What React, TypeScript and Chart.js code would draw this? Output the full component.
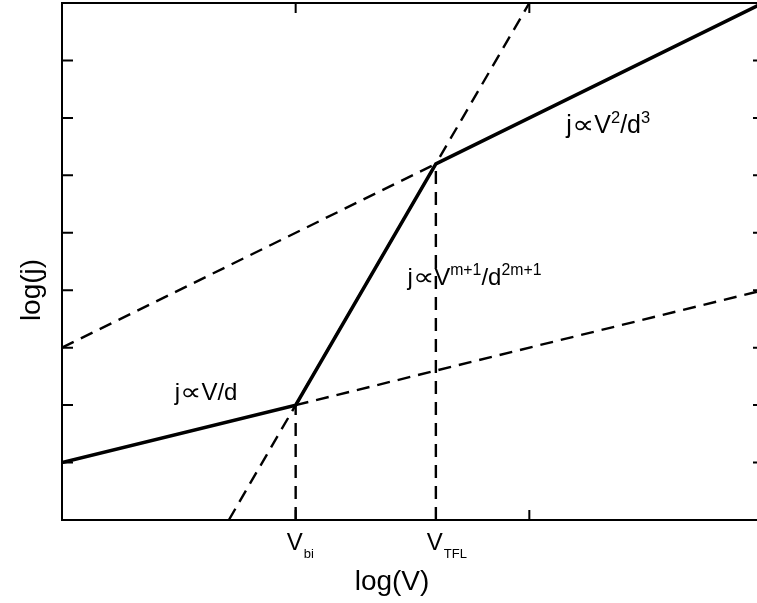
import { useEffect, useRef } from "react";
import { Chart, registerables } from "chart.js";

Chart.register(...registerables);

// log(V) / log(j) scale limits (arbitrary log units)
const xRange = [0, 3];
const yRange = [0, 9];

// Tick positions on the frame
const xTicks = [1, 2];
const yTicks = [1, 2, 3, 4, 5, 6, 7, 8];

// Characteristic voltages (log units)
const logVbi = 1;
const logVtfl = 1.6;

// Measured J-V curve: ohmic -> trap-filling -> Child's law
const curveX = [0, logVbi, logVtfl, 3];
const curveY = [1, 2, 6.2, 9];

// Extrapolated regimes (dashed)
const ohmicExtX = [logVbi, 3];
const ohmicExtY = [2, 4];
const childExtX = [0, logVtfl];
const childExtY = [3, 6.2];
const trapExtX = [0.714, 2];
const trapExtY = [0, 9];

// Vertical guides down to the voltage axis
const vbiGuideX = [logVbi, logVbi];
const vbiGuideY = [0, 2];
const vtflGuideX = [logVtfl, logVtfl];
const vtflGuideY = [0, 6.2];

const FONT = '"Liberation Sans", Arial, sans-serif';

type Part = { t: string; sup?: boolean; sub?: boolean; sym?: boolean };

const regimeLabels: { x: number; y: number; size: number; parts: Part[] }[] = [
  { x: 0.483, y: 2.09, size: 24, parts: [{ t: "j" }, { t: "\u221D", sym: true }, { t: "V/d" }] },
  {
    x: 1.479,
    y: 4.09,
    size: 24,
    parts: [
      { t: "j" },
      { t: "\u221D", sym: true },
      { t: "V" },
      { t: "m+1", sup: true },
      { t: "/d" },
      { t: "2m+1", sup: true },
    ],
  },
  {
    x: 2.158,
    y: 6.73,
    size: 25,
    parts: [
      { t: "j" },
      { t: "\u221D", sym: true },
      { t: "V" },
      { t: "2", sup: true },
      { t: "/d" },
      { t: "3", sup: true },
    ],
  },
];

const voltageLabels: { x: number; main: string; sub: string }[] = [
  { x: logVbi, main: "V", sub: "bi" },
  { x: logVtfl, main: "V", sub: "TFL" },
];

const pts = (xs: number[], ys: number[]) => xs.map((x, i) => ({ x, y: ys[i] }));

function drawRich(ctx: CanvasRenderingContext2D, x: number, y: number, parts: Part[], size: number) {
  let cx = x;
  for (const p of parts) {
    let s = size;
    let dy = 0;
    if (p.sup) {
      s = size * 0.66;
      dy = -size * 0.4;
    } else if (p.sub) {
      s = size * 0.55;
      dy = size * 0.35;
    }
    ctx.font = `${s}px ${FONT}`;
    if (p.sym) {
      // widened proportionality sign
      const stretch = 1.25;
      const w = ctx.measureText(p.t).width;
      ctx.save();
      ctx.translate(cx, y + dy);
      ctx.scale(stretch, 1);
      ctx.fillText(p.t, 0, 0);
      ctx.restore();
      cx += w * stretch;
    } else {
      ctx.fillText(p.t, cx, y + dy);
      cx += ctx.measureText(p.t).width;
    }
  }
}

const framePlugin = {
  id: "frameAndLabels",
  afterDraw(chart: any) {
    const { ctx, chartArea: a, scales } = chart;
    const xs = scales.x;
    const ys = scales.y;
    ctx.save();
    ctx.strokeStyle = "#000";
    ctx.fillStyle = "#000";
    ctx.lineWidth = 2;
    ctx.lineCap = "butt";
    ctx.beginPath();
    ctx.rect(a.left, a.top, a.right - a.left, a.bottom - a.top);
    ctx.stroke();

    // inward tick marks
    ctx.beginPath();
    for (const v of yTicks) {
      const py = ys.getPixelForValue(v);
      ctx.moveTo(a.left, py);
      ctx.lineTo(a.left + 11, py);
      ctx.moveTo(a.right, py);
      ctx.lineTo(a.right - 10, py);
    }
    for (const v of xTicks) {
      const px = xs.getPixelForValue(v);
      ctx.moveTo(px, a.bottom);
      ctx.lineTo(px, a.bottom - 10);
      ctx.moveTo(px, a.top);
      ctx.lineTo(px, a.top + 10);
    }
    ctx.stroke();

    // regime formulas
    ctx.textBaseline = "alphabetic";
    ctx.textAlign = "left";
    for (const l of regimeLabels) {
      drawRich(ctx, xs.getPixelForValue(l.x), ys.getPixelForValue(l.y), l.parts, l.size);
    }

    // voltage markers under the axis
    for (const l of voltageLabels) {
      const px = xs.getPixelForValue(l.x);
      ctx.font = `24px ${FONT}`;
      const w = ctx.measureText(l.main).width;
      const left = px - w / 2 - 1;
      ctx.fillText(l.main, left, a.bottom + 30);
      ctx.font = `13px ${FONT}`;
      ctx.fillText(l.sub, left + w + 1, a.bottom + 38);
    }

    // axis titles
    ctx.font = `28px ${FONT}`;
    ctx.textAlign = "center";
    ctx.fillText("log(V)", 392, 590);
    ctx.save();
    ctx.translate(40, 290);
    ctx.rotate(-Math.PI / 2);
    ctx.fillText("log(j)", 0, 0);
    ctx.restore();
    ctx.restore();
  },
};

export default function App() {
  const ref = useRef<HTMLCanvasElement | null>(null);

  useEffect(() => {
    if (!ref.current) return;
    const dashed = { borderWidth: 2.4, borderDash: [13, 8] };
    const common = { borderColor: "#000", pointRadius: 0, fill: false, tension: 0 };
    const chart = new Chart(ref.current, {
      type: "line",
      data: {
        datasets: [
          { ...common, ...dashed, data: pts(trapExtX, trapExtY) },
          { ...common, ...dashed, data: pts(ohmicExtX, ohmicExtY) },
          { ...common, ...dashed, data: pts(childExtX, childExtY) },
          { ...common, ...dashed, data: pts(vbiGuideX, vbiGuideY) },
          { ...common, ...dashed, data: pts(vtflGuideX, vtflGuideY) },
          { ...common, borderWidth: 3.5, borderJoinStyle: "miter", data: pts(curveX, curveY) },
        ],
      } as any,
      options: {
        responsive: false,
        animation: false,
        events: [],
        layout: { padding: { left: 62, top: 3, right: 7, bottom: 83 } },
        plugins: { legend: { display: false }, tooltip: { enabled: false } },
        scales: {
          x: { type: "linear", min: xRange[0], max: xRange[1], display: false },
          y: { type: "linear", min: yRange[0], max: yRange[1], display: false },
        },
      },
      plugins: [framePlugin],
    });
    return () => chart.destroy();
  }, []);

  return (
    <div
      style={{
        position: "fixed",
        left: 0,
        top: 0,
        width: 757,
        height: 603,
        overflow: "hidden",
        background: "#fff",
      }}
    >
      <canvas ref={ref} width={770} height={603} style={{ display: "block" }} />
    </div>
  );
}
